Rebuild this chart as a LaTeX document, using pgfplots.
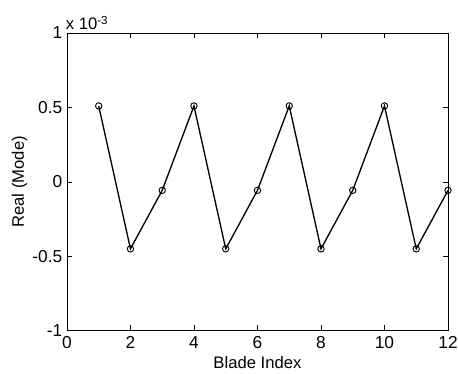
\documentclass[border=0pt]{standalone}
\usepackage{pgfplots}
\pgfplotsset{compat=1.18}
\usepackage{fontspec}
\setmainfont{Liberation Sans}
\usetikzlibrary{calc}
\begin{document}
\begin{tikzpicture}
\begin{axis}[
  name=ax,
  scale only axis,
  width=286pt, height=223.5pt,
  xmin=0, xmax=12, ymin=-1, ymax=1,
  xtick={0,2,...,12},
  ytick={-1,-0.5,0,0.5,1},
  tick align=inside,
  tick pos=both,
  major tick length=4pt,
  axis line style={line width=0.6pt},
  tick style={line width=0.5pt, black},
  /pgf/number format/assume math mode=true,
  ticklabel style={font=\fontsize{13}{15}\selectfont},
  xticklabel style={yshift=-1pt},
  xlabel={Blade Index},
  ylabel={Real (Mode)},
  label style={font=\fontsize{12.5}{14}\selectfont},
  xlabel style={yshift=1pt},
  ylabel style={yshift=-3pt},
  clip=false,
]
\addplot[black, line width=1pt, mark=o, mark size=2.4pt, mark options={line width=0.7pt}]
coordinates {
(1,0.51) (2,-0.45) (3,-0.057) (4,0.51) (5,-0.45) (6,-0.057)
(7,0.51) (8,-0.45) (9,-0.057) (10,0.51) (11,-0.45) (12,-0.057)
};
\node[anchor=south west, inner sep=0pt, font=\fontsize{12.5}{14}\selectfont, xshift=-1pt, yshift=2pt] at (rel axis cs:0,1) {x 10\textsuperscript{-3}};
\end{axis}
\pgfresetboundingbox
\path ($(ax.south west)+(-50.25pt,-32.25pt)$) rectangle ($(ax.north east)+(7.5pt,24.75pt)$);
\end{tikzpicture}
\end{document}
